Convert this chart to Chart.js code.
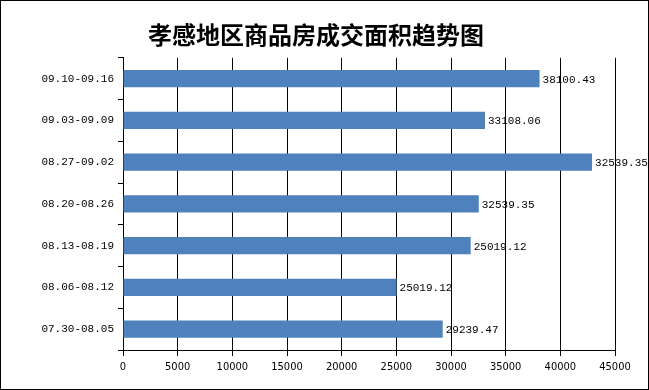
<!DOCTYPE html>
<html>
<head>
<meta charset="utf-8">
<script src="https://cdn.jsdelivr.net/npm/chart.js@4/dist/chart.umd.min.js"></script>
<style>
  html, body { margin: 0; padding: 0; background: #fff; }
  #wrap { width: 649px; height: 390px; }
</style>
</head>
<body>
<div id="wrap"><canvas id="chart" width="649" height="390"></canvas></div>
<script>
'use strict';
// ---------- dane ----------
const TITLE = '孝感地区商品房成交面积趋势图';
const weeks = ['09.10-09.16', '09.03-09.09', '08.27-09.02', '08.20-08.26',
               '08.13-08.19', '08.06-08.12', '07.30-08.05'];
const area = [38100.43, 33108.06, 42900, 32539.35, 31800, 25019.12, 29239.47];
// etykiety tak jak na oryginale (nie zawsze zgodne z długością słupka)
const areaLabels = ['38100.43', '33108.06', '32539.35', '32539.35',
                    '25019.12', '25019.12', '29239.47'];
const xTicks = [0, 5000, 10000, 15000, 20000, 25000, 30000, 35000, 40000, 45000];

const BLUE = '#4f81bd';
const MONO = '"Liberation Mono","DejaVu Sans Mono",monospace';
const NARROW = '"DejaVu Sans Condensed","Liberation Sans",sans-serif';

// ---------- pluginy ----------
const frame = {
  id: 'frame',
  beforeDraw(c) {
    const ctx = c.ctx;
    ctx.save();
    ctx.fillStyle = '#fff';
    ctx.fillRect(0, 0, c.width, c.height);
    ctx.restore();
  },
  afterDraw(c) {
    const ctx = c.ctx;
    ctx.save();
    ctx.strokeStyle = '#000';
    ctx.lineWidth = 1;
    ctx.strokeRect(0.5, 0.5, c.width - 1, c.height - 1);
    ctx.restore();
  },
};

const valueLabels = {
  id: 'valueLabels',
  afterDatasetsDraw(c) {
    const ctx = c.ctx;
    const meta = c.getDatasetMeta(0);
    ctx.save();
    ctx.font = '11px ' + MONO;
    ctx.fillStyle = '#000';
    ctx.textBaseline = 'middle';
    ctx.textAlign = 'left';
    meta.data.forEach((bar, i) => ctx.fillText(areaLabels[i], bar.x + 3, bar.y + 1));
    ctx.restore();
  },
};

// ---------- wykres ----------
new Chart(document.getElementById('chart'), {
  type: 'bar',
  data: {
    labels: weeks,
    datasets: [{ data: area, backgroundColor: BLUE, borderWidth: 0,
                 categoryPercentage: 0.41, barPercentage: 1 }],
  },
  options: {
    indexAxis: 'y',
    responsive: false,
    animation: false,
    layout: { padding: { top: 0, right: 34, bottom: 0, left: 17 } },
    plugins: {
      legend: { display: false },
      tooltip: { enabled: false },
      title: { display: true, text: TITLE, color: '#000',
               font: { family: '"Noto Sans CJK SC"', size: 24, weight: 'bold', lineHeight: 1.2 },
               padding: { top: 20, bottom: 9 } },
    },
    scales: {
      x: {
        min: 0, max: 45000,
        afterBuildTicks: s => { s.ticks = xTicks.map(v => ({ value: v })); },
        afterFit: s => { s.height = 40; },
        grid: { color: '#000', lineWidth: 1, tickLength: 6, drawOnChartArea: true },
        border: { color: '#000', width: 1 },
        ticks: { color: '#000', padding: 5, maxRotation: 0, autoSkip: false,
                 callback: v => String(v),
                 font: { family: NARROW, size: 11 } },
      },
      y: {
        afterFit: s => { s.width = 106; },
        grid: { color: '#000', offset: true, tickLength: 5, drawOnChartArea: false },
        border: { color: '#000', width: 1 },
        ticks: { color: '#000', padding: 4, font: { family: MONO, size: 11 } },
      },
    },
  },
  plugins: [frame, valueLabels],
});
</script>
</body>
</html>
